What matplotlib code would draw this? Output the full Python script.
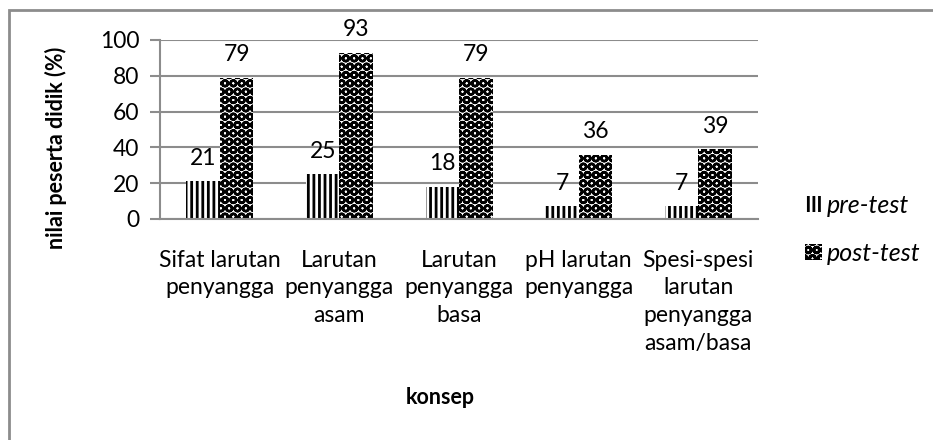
import matplotlib.pyplot as plt
import numpy as np
from matplotlib.patches import Rectangle

plt.rcParams['font.family'] = ['Lato', 'DejaVu Sans']
plt.rcParams['hatch.linewidth'] = 2.0

# data
categories = ["Sifat larutan\npenyangga", "Larutan\npenyangga\nasam",
              "Larutan\npenyangga\nbasa", "pH larutan\npenyangga",
              "Spesi-spesi\nlarutan\npenyangga\nasam/basa"]
pre_test = [21, 25, 18, 7, 7]
post_test = [79, 93, 79, 36, 39]

grey = "#8c8c8c"
fs = 16.5

fig = plt.figure(figsize=(9.33, 4.4), dpi=100)
ax = fig.add_axes([0.1715, 0.5023, 0.641, 0.4068])

# outer chart border (only top and left edge visible in the crop)
fig.patches.append(Rectangle((9 / 933, -0.1), 1.2, 1 - 10 / 440 + 0.1,
                             transform=fig.transFigure, fill=False,
                             edgecolor=grey, linewidth=2, zorder=0))

x = np.arange(len(categories))
w = 0.28
b1 = ax.bar(x - w / 2, pre_test, w, color="white", edgecolor="black",
            hatch="|||", linewidth=0, label="pre-test")
b2 = ax.bar(x + w / 2, post_test, w, color="white", edgecolor="black",
            hatch="OO", linewidth=0, label="post-test")
for p in b2:
    if hasattr(p, "set_hatch_linewidth"):
        p.set_hatch_linewidth(1.8)

ax.bar_label(b1, padding=9, fontsize=fs)
ax.bar_label(b2, padding=9, fontsize=fs)

ax.set_xlim(-0.5, len(categories) - 0.5)
ax.set_ylim(0, 100)
ax.set_yticks(range(0, 101, 20))
ax.yaxis.grid(True, color=grey, linewidth=1.5)
ax.set_axisbelow(True)
for s in ["top", "right"]:
    ax.spines[s].set_visible(False)
ax.spines["left"].set_color(grey)
ax.spines["bottom"].set_color(grey)
ax.spines["left"].set_linewidth(1.5)
ax.spines["bottom"].set_linewidth(1.5)
ax.tick_params(axis="y", length=7, width=1.5, color=grey, labelsize=fs, pad=8)
ax.tick_params(axis="x", length=0, labelsize=fs, pad=22)
ax.set_xticks(x)
ax.set_xticklabels(categories, linespacing=1.4)

ax.set_ylabel("nilai peserta didik (%)", fontsize=15.5, fontweight="bold")
ax.yaxis.set_label_coords(-0.155, 0.4)
fig.text(440 / 933, 1 - 397 / 440, "konsep", fontsize=15.5, fontweight="bold",
         ha="center", va="center")

leg = fig.legend(handles=[b1, b2], loc="center left",
                 bbox_to_anchor=(782 / 933, 1 - 229 / 440), frameon=False,
                 prop={"style": "italic", "size": 18}, handlelength=0.7,
                 handleheight=0.6, handletextpad=0.2, labelspacing=1.0)

fig.savefig("out.png", dpi=100)
